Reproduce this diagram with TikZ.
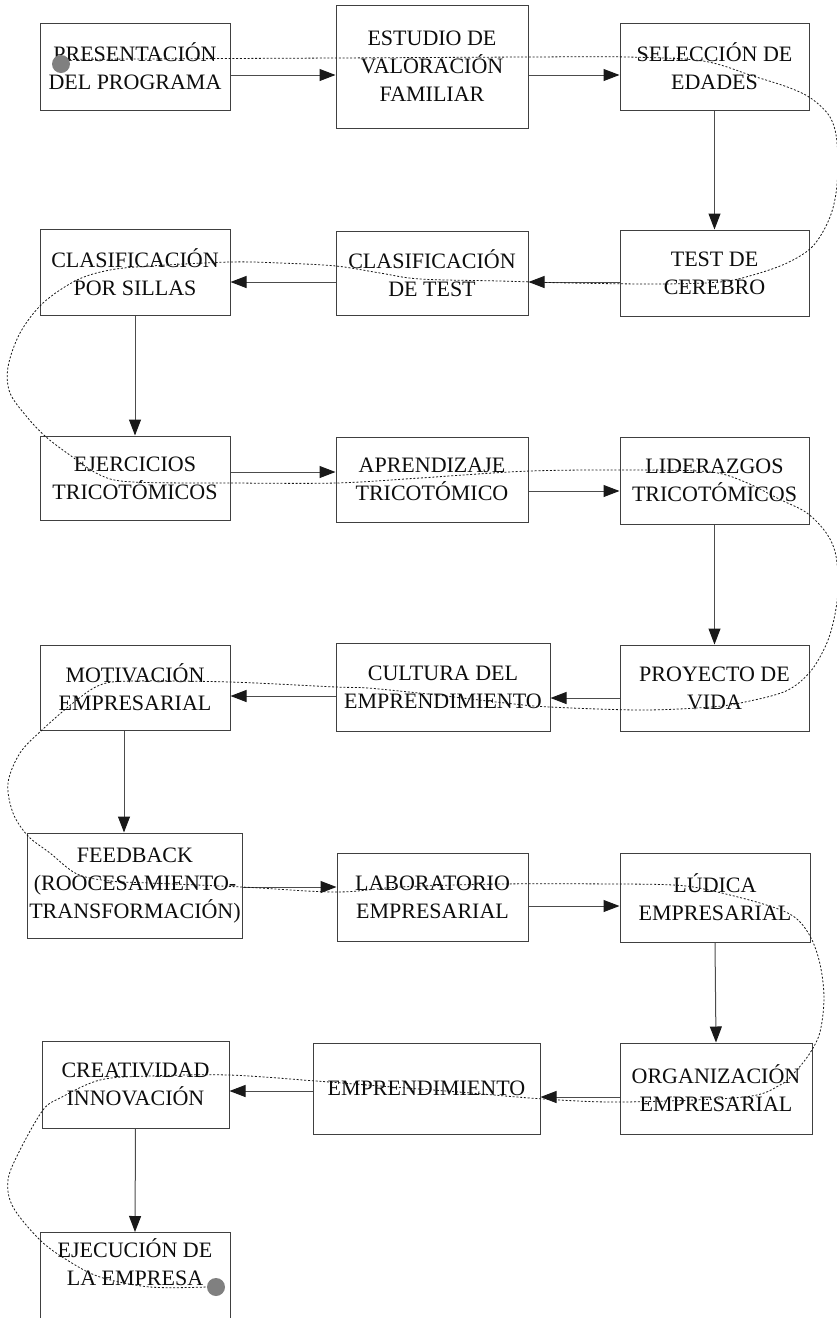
\documentclass[tikz,border=0pt]{standalone}
\usepackage{fontspec}
\setmainfont{Liberation Serif}
\usetikzlibrary{arrows.meta}

\begin{document}
\begin{tikzpicture}[x=1pt,y=-1pt,
    stepbox/.style={draw=black!75,line width=1pt,align=center,inner sep=1.5pt,
      text=black!95,font=\fontsize{22}{28}\selectfont},
    flow/.style={draw=black!70,line width=1pt,-{Triangle[length=16pt,width=12pt,color=black!90]}},
    trail/.style={draw=black!90,line width=0.8pt,dash pattern=on 2pt off 1.8pt},
    dot/.style={circle,fill=black!50,minimum size=18pt,inner sep=0pt}]
    \path[use as bounding box,clip] (0,0) rectangle (837,1318);
    % Boxes row 1
      \node[stepbox,minimum width=190pt,minimum height=87pt] (pres) at (135,66.5) {PRESENTACIÓN\\DEL PROGRAMA};
      \node[stepbox,minimum width=192pt,minimum height=123pt] (estu) at (432,66.5) {ESTUDIO DE\\VALORACIÓN\\FAMILIAR};
      \node[stepbox,minimum width=189pt,minimum height=87pt] (sele) at (714.5,66.5) {SELECCIÓN DE\\EDADES};
    % Boxes row 2
      \node[stepbox,minimum width=189pt,minimum height=86pt] (test) at (714.5,273) {TEST DE\\CEREBRO};
      \node[stepbox,minimum width=192pt,minimum height=84pt] (clte) at (432,273) {CLASIFICACIÓN\\DE TEST};
      \node[stepbox,minimum width=190pt,minimum height=86pt] (clsi) at (135,272) {CLASIFICACIÓN\\POR SILLAS};
    % Boxes row 3
      \node[stepbox,minimum width=190pt,minimum height=84pt] (ejer) at (135,478) {EJERCICIOS\\TRICOTÓMICOS};
      \node[stepbox,minimum width=192pt,minimum height=85pt] (apre) at (432,479.5) {APRENDIZAJE\\TRICOTÓMICO};
      \node[stepbox,minimum width=189pt,minimum height=87pt] (lide) at (714.5,480.5) {LIDERAZGOS\\TRICOTÓMICOS};
    % Boxes row 4
      \node[stepbox,minimum width=189pt,minimum height=86pt] (proy) at (714.5,688) {PROYECTO DE\\VIDA};
      \node[stepbox,minimum width=214pt,minimum height=88pt] (cult) at (443,687) {CULTURA DEL\\EMPRENDIMIENTO};
      \node[stepbox,minimum width=190pt,minimum height=85pt] (moti) at (135,687.5) {MOTIVACIÓN\\EMPRESARIAL};
    % Boxes row 5
      \node[stepbox,minimum width=214pt,minimum height=105pt] (feed) at (135,885.5) {FEEDBACK\\(ROOCESAMIENTO-\\TRANSFORMACIÓN)};
      \node[stepbox,minimum width=191pt,minimum height=88pt] (labo) at (432.5,897) {LABORATORIO\\EMPRESARIAL};
      \node[stepbox,minimum width=190pt,minimum height=89pt] (ludi) at (715,897.5) {LÚDICA\\EMPRESARIAL};
    % Boxes row 6
      \node[stepbox,minimum width=192pt,minimum height=91pt] (orga) at (716,1088.5) {ORGANIZACIÓN\\EMPRESARIAL};
      \node[stepbox,minimum width=227pt,minimum height=91pt] (empr) at (426.5,1088.5) {EMPRENDIMIENTO};
      \node[stepbox,minimum width=187pt,minimum height=87pt] (crea) at (135.5,1084.5) {CREATIVIDAD\\INNOVACIÓN};
    % Last box, cut by the page
      \node[stepbox,minimum width=190pt,anchor=north,inner ysep=6pt] (ejec) at (135,1232) {EJECUCIÓN DE\\LA EMPRESA\rule[-70pt]{0pt}{0pt}};
    % Arrows
      \draw[flow] ([yshift=-8.5pt]pres.east) -- ([yshift=-8.5pt]estu.west);
      \draw[flow] ([yshift=-8.5pt]estu.east) -- ([yshift=-8.5pt]sele.west);
      \draw[flow] (sele.south) -- (test.north);
      \draw[flow] ([yshift=-9pt]test.west) -- ([yshift=-9pt]clte.east);
      \draw[flow] ([yshift=-9pt]clte.west) -- ([yshift=-10pt]clsi.east);
      \draw[flow] (clsi.south) -- (ejer.north);
      \draw[flow] ([yshift=6pt]ejer.east) -- ([yshift=7.5pt]apre.west);
      \draw[flow] ([yshift=-11.5pt]apre.east) -- ([yshift=-10.5pt]lide.west);
      \draw[flow] (lide.south) -- (proy.north);
      \draw[flow] ([yshift=-10pt]proy.west) -- ([yshift=-11pt]cult.east);
      \draw[flow] ([yshift=-9pt]cult.west) -- ([yshift=-8.5pt]moti.east);
      \draw[flow] ([xshift=-11pt]moti.south) -- ([xshift=-11pt]feed.north);
      \draw[flow] ([yshift=-1.5pt]feed.east) -- ([yshift=10pt]labo.west);
      \draw[flow] ([yshift=-9pt]labo.east) -- ([yshift=-8.5pt]ludi.west);
      \draw[flow] (ludi.south) -- (orga.north);
      \draw[flow] ([yshift=-8.5pt]orga.west) -- ([yshift=-8.5pt]empr.east);
      \draw[flow] ([yshift=-2.5pt]empr.west) -- ([yshift=-6.5pt]crea.east);
      \draw[flow] (crea.south) -- (ejec.north);
    % Dotted route
      \node[dot] (inicio) at (61,64) {};
      \node[dot] (fin) at (216,1287) {};
      \draw[trail] plot[smooth,tension=0.55] coordinates {(inicio.30) (230,58.5) (336,58) (528,57) (627,57)
        (703,61) (753,76) (790,88) (812,99) (830,117) (837,142) (837,185) (830,217) (813,246) (787,263)
        (753,275) (720,282) (660,284) (570,283) (500,281) (420,279) (380,273) (336,266) (280,263) (230,262)
        (150,266) (110,270) (77,280) (43,303) (20,333) (8,367) (10,393) (27,417) (45,436) (67,453)
        (100,475) (133,482) (230,483) (336,483) (420,478) (530,471) (642,470) (711,472) (745,482)
        (779,499) (807,513) (827,534) (836,556) (838,590) (834,619) (826,645) (810,672) (786,691)
        (745,702) (711,707) (642,710) (550,707) (505,703) (437,695) (368,688) (336,687) (230,682)
        (133,681) (100,685) (73,703) (42,730) (20,753) (8,783) (13,813) (28,836) (50,853) (77,874)
        (110,881) (150,883) (242,887) (336,892) (400,887) (500,884) (620,884) (673,885) (704,889)
        (760,903) (793,916) (810,936) (820,964) (824,998) (820,1032) (810,1053) (795,1072) (780,1085)
        (744,1097) (623,1102) (544,1099) (459,1092) (380,1086) (316,1081) (229,1075) (150,1076)
        (100,1080) (60,1098) (43,1110) (20,1150) (8,1180) (13,1207) (40,1240) (67,1260) (100,1277)
        (150,1287) (fin.west)};
\end{tikzpicture}
\end{document}
